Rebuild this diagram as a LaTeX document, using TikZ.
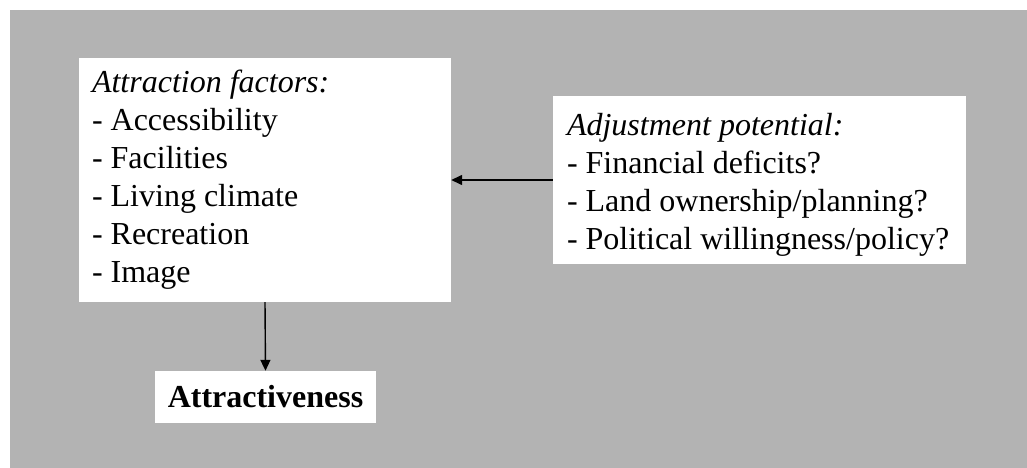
\documentclass[tikz,border=0pt]{standalone}
\usepackage{fontspec}
\setmainfont{Liberation Serif}
\usetikzlibrary{arrows.meta}
\definecolor{panelgray}{RGB}{179,179,179}
\begin{document}
\begin{tikzpicture}[x=1pt,y=-1pt,
  box/.style={draw=none,fill=white,inner sep=0pt},
  listtext/.style={font=\fontsize{32}{38}\selectfont,anchor=base west,inner sep=0pt,align=left},
  link/.style={-{Triangle[length=11pt,width=10pt]},line width=1.4pt}]
\useasboundingbox (0,0) rectangle (1027,468);
% grey panel
\fill[panelgray] (10,10) rectangle (1027,468);
% boxes
\node[box,minimum width=372pt,minimum height=244pt] (factors) at (265,180) {};
\node[box,minimum width=413pt,minimum height=168pt] (potential) at (759.5,180) {};
\node[box,minimum width=221pt,minimum height=52pt,font={\fontsize{32}{38}\selectfont\bfseries}] (result) at (265.5,397) {Attractiveness};
% box contents (anchored on the baseline of the last line)
\node[listtext] (factorslist) at ([shift={(13,225)}]factors.north west)
  {\textit{Attraction factors:}\\- Accessibility\\- Facilities\\- Living climate\\- Recreation\\- Image};
\node[listtext] (potentiallist) at ([shift={(14,154)}]potential.north west)
  {\textit{Adjustment potential:}\\- Financial deficits?\\- Land ownership/planning?\\- Political willingness/policy?};
% connectors
\draw[link] (potential.west) -- (factors.east);
\draw[link] (factors.south) -- (result.north);
\end{tikzpicture}
\end{document}
